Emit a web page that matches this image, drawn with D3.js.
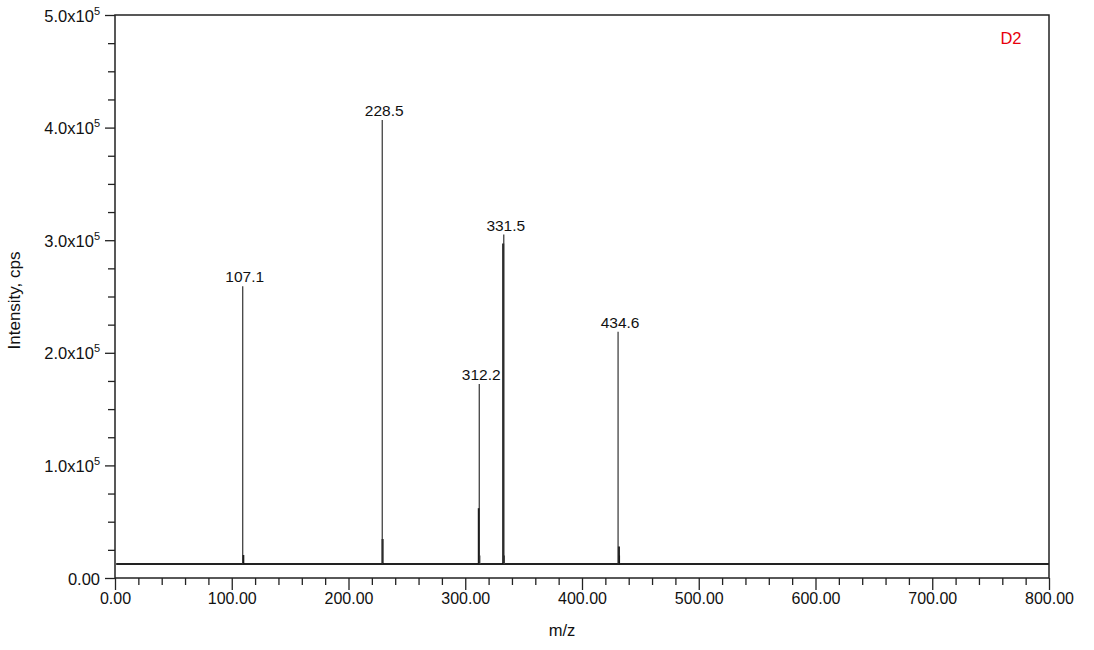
<!DOCTYPE html>
<html>
<head>
<meta charset="utf-8">
<script src="https://cdn.jsdelivr.net/npm/d3@7"></script>
<style>
  body { margin: 0; background: #fff; }
  text { font-family: "Liberation Sans", Arial, sans-serif; }
</style>
</head>
<body>
<svg id="chart" width="1094" height="650"></svg>
<script>
// ---- data ----
const xMajorTicks = [0, 100, 200, 300, 400, 500, 600, 700, 800];
const yMajorTicks = [0, 100000, 200000, 300000, 400000, 500000];
const baselineIntensity = 12400;

// labelled peaks (position as drawn, label text as printed)
const peakMz = [109.4, 228.9, 312.0, 333.0, 430.9];
const peakIntensity = [259000, 406700, 172300, 305000, 218800];
const peakLabels = ["107.1", "228.5", "312.2", "331.5", "434.6"];

// shoulder sticks next to peaks
const shoulderMz = [109.9, 229.2, 311.6, 332.5, 431.6];
const shoulderIntensity = [20400, 34600, 62000, 297000, 28000];

// small satellite sticks
const satelliteMz = [312.6, 333.6, 432.2];
const satelliteIntensity = [20000, 20000, 20000];

const sampleName = "D2";

// ---- layout ----
const svg = d3.select("#chart");
const pL = 115, pR = 1049, pT = 15, pB = 578;

const x = d3.scaleLinear().domain([0, 800]).range([pL, pR]);
const y = d3.scaleLinear().domain([0, 500000]).range([pB, pT]);

const ink = "#222";

// frame
svg.append("rect")
  .attr("x", pL).attr("y", pT)
  .attr("width", pR - pL).attr("height", pB - pT)
  .attr("fill", "none").attr("stroke", ink).attr("stroke-width", 1.5);

// x minor ticks
const xMinor = d3.range(0, 801, 20).filter(v => v % 100 !== 0);
svg.append("g")
  .attr("transform", `translate(0,${pB})`)
  .call(d3.axisBottom(x).tickValues(xMinor).tickSize(7).tickFormat(""))
  .call(g => g.select(".domain").remove())
  .call(g => g.selectAll("line").attr("stroke", ink).attr("stroke-width", 1.3));

// x major ticks
svg.append("g")
  .attr("transform", `translate(0,${pB})`)
  .call(d3.axisBottom(x).tickValues(xMajorTicks).tickSize(12).tickFormat(d3.format(".2f")))
  .call(g => g.select(".domain").remove())
  .call(g => g.selectAll("line").attr("stroke", ink).attr("stroke-width", 1.3))
  .call(g => g.selectAll("text")
    .attr("font-family", "Liberation Sans, Arial, sans-serif")
    .attr("font-size", 16).attr("fill", "#111")
    .attr("dy", 0).attr("y", 26));

// y minor ticks
const yMinor = d3.range(0, 500001, 25000).filter(v => v % 100000 !== 0);
svg.append("g")
  .attr("transform", `translate(${pL},0)`)
  .call(d3.axisLeft(y).tickValues(yMinor).tickSize(7).tickFormat(""))
  .call(g => g.select(".domain").remove())
  .call(g => g.selectAll("line").attr("stroke", ink).attr("stroke-width", 1.3));

// y major ticks
const yAxisG = svg.append("g")
  .attr("transform", `translate(${pL},0)`)
  .call(d3.axisLeft(y).tickValues(yMajorTicks).tickSize(10).tickFormat(""))
  .call(g => g.select(".domain").remove())
  .call(g => g.selectAll("line").attr("stroke", ink).attr("stroke-width", 1.3));

yAxisG.selectAll(".tick").each(function(d) {
  const t = d3.select(this).append("text")
    .attr("x", -15).attr("y", 6)
    .attr("text-anchor", "end")
    .attr("font-size", 16.5).attr("fill", "#111");
  if (d === 0) {
    t.text("0.00");
  } else {
    const mant = (d / 100000).toFixed(1);
    t.append("tspan").text(mant + "x10");
    t.append("tspan").attr("dy", -7).attr("font-size", 11).text("5");
  }
});

// axis titles
svg.append("text")
  .attr("x", 562).attr("y", 636)
  .attr("text-anchor", "middle").attr("font-size", 16.5).attr("fill", "#111")
  .text("m/z");

svg.append("text")
  .attr("transform", `translate(20,${(pT + pB) / 2 + 4}) rotate(-90)`)
  .attr("text-anchor", "middle").attr("font-size", 17).attr("fill", "#111")
  .text("Intensity, cps");

// sample name
svg.append("text")
  .attr("x", 1011).attr("y", 44)
  .attr("text-anchor", "middle").attr("font-size", 16.5).attr("fill", "#e8000b")
  .text(sampleName);

// baseline trace
svg.append("line")
  .attr("x1", x(1)).attr("x2", pR)
  .attr("y1", y(baselineIntensity)).attr("y2", y(baselineIntensity))
  .attr("stroke", ink).attr("stroke-width", 2);

// satellite sticks
svg.append("g").selectAll("line")
  .data(satelliteMz.map((m, i) => ({ m, v: satelliteIntensity[i] })))
  .join("line")
  .attr("x1", d => x(d.m)).attr("x2", d => x(d.m))
  .attr("y1", y(baselineIntensity)).attr("y2", d => y(d.v))
  .attr("stroke", "#555").attr("stroke-width", 1);

// shoulder sticks
svg.append("g").selectAll("line")
  .data(shoulderMz.map((m, i) => ({ m, v: shoulderIntensity[i] })))
  .join("line")
  .attr("x1", d => x(d.m)).attr("x2", d => x(d.m))
  .attr("y1", y(baselineIntensity)).attr("y2", d => y(d.v))
  .attr("stroke", "#111").attr("stroke-width", 2);

// main peaks
const peaks = peakMz.map((m, i) => ({ m, v: peakIntensity[i], label: peakLabels[i] }));
svg.append("g").selectAll("line")
  .data(peaks)
  .join("line")
  .attr("x1", d => x(d.m)).attr("x2", d => x(d.m))
  .attr("y1", y(baselineIntensity)).attr("y2", d => y(d.v))
  .attr("stroke", "#333").attr("stroke-width", 1.2);

svg.append("g").selectAll("text")
  .data(peaks)
  .join("text")
  .attr("x", d => x(d.m) + 2).attr("y", d => y(d.v) - 4)
  .attr("text-anchor", "middle").attr("font-size", 15.5).attr("fill", "#111")
  .text(d => d.label);
</script>
</body>
</html>
